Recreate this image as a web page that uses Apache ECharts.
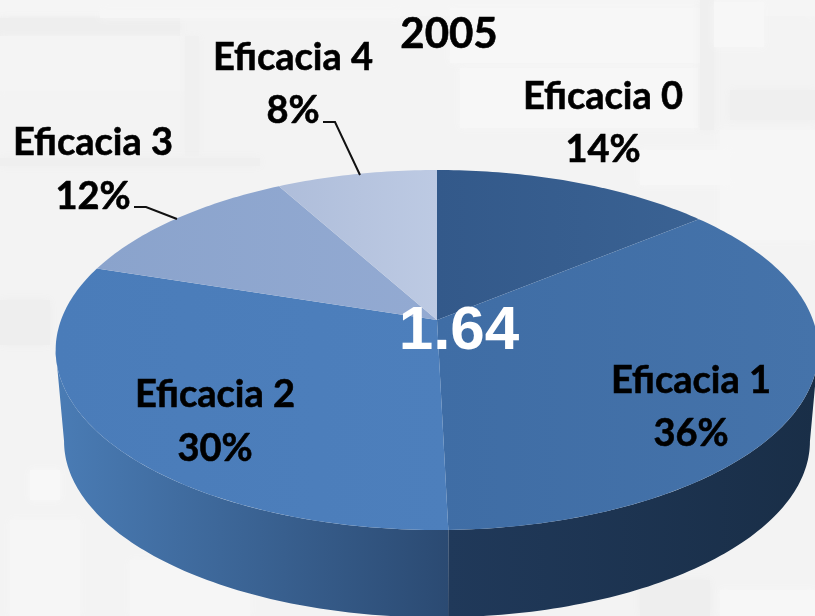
<!DOCTYPE html>
<html>
<head>
<meta charset="utf-8">
<style>
    html, body { margin: 0; padding: 0; background: #f3f3f3; }
    #main { width: 815px; height: 616px; }
</style>
<script src="https://cdn.jsdelivr.net/npm/echarts@6/dist/echarts.min.js"></script>
</head>
<body>
<div id="main"></div>
<script>
// valores (los rotulos muestran el redondeo)
const categories = ['Eficacia 0', 'Eficacia 1', 'Eficacia 2', 'Eficacia 3', 'Eficacia 4'];
const shares = [14, 35.6, 30.4, 12, 8];
const chartTitle = '2005';
const centerValue = '1.64';

// estilo de cada sector: cara superior y pared
const topColors = [
    ['#33598a', '#3a6293'],
    ['#3f6da5', '#4573aa'],
    ['#4a7cb9', '#4d7fbc'],
    ['#8aa3cc', '#93aad2'],
    ['#aebdda', '#bdcae3']
];
const wallColors = [
    ['#1b3048', '#1b3048'],
    ['#20395a', '#192e47'],
    ['#4a7cb5', '#2b4a72'],
    ['#4a7cb5', '#4a7cb5'],
    ['#4a7cb5', '#4a7cb5']
];

// posicion de los rotulos [x, y nombre, y porcentaje]
const labelPlaces = [[603, 97, 150], [691, 381, 434], [215, 395, 449], [93, 143, 197], [293, 58, 111]];
const leaderLines = {
    3: [[134, 207], [146, 207], [177, 219]],
    4: [[323, 122], [335, 122], [360, 175]]
};

// geometria de la tarta en perspectiva
const cx = 437, cy = 320, sx = 376, sy = 175, tilt = 1 / 6;
const depth = 88, bottomScale = 0.978;
// angulo donde la pared deja de verse (borde de la silueta)
const edgeAngle = Math.acos(-tilt) * 180 / Math.PI;

function project(deg, isBottom) {
    const a = deg * Math.PI / 180;
    const u = Math.sin(a), v = -Math.cos(a);
    const w = 1 - tilt * v;
    const k = isBottom ? bottomScale : 1;
    return [cx + sx * k * u / w, cy + sy * k * v / w + (isBottom ? depth + 4 : 0)];
}

function arc(from, to, isBottom) {
    const pts = [];
    const n = Math.max(2, Math.ceil(Math.abs(to - from)));
    for (let i = 0; i <= n; i++) {
        pts.push(project(from + (to - from) * i / n, isBottom));
    }
    return pts;
}

function grad(x1, x2, c) {
    return new echarts.graphic.LinearGradient(x1, 0, x2, 0, [
        { offset: 0, color: c[0] }, { offset: 1, color: c[1] }
    ], true);
}

const total = shares.reduce((a, b) => a + b, 0);
const starts = [];
shares.reduce((acc, s, i) => { starts[i] = acc / total * 360; return acc + s; }, 0);

function labelText(x, y, text) {
    return {
        type: 'text',
        style: {
            x: x, y: y, text: text,
            fill: '#000', stroke: '#000', lineWidth: 0.6,
            font: 'bold 38px Lato', textAlign: 'center', textVerticalAlign: 'middle'
        },
        z2: 5
    };
}

function renderSlice(params, api) {
    const i = api.value(0);
    const from = starts[i];
    const to = from + shares[i] / total * 360;
    const children = [];

    // pared visible, solo la parte frontal
    const wallFrom = Math.max(from, edgeAngle), wallTo = Math.min(to, 360 - edgeAngle);
    if (wallTo > wallFrom) {
        const upper = arc(wallFrom, wallTo, false);
        const lower = arc(wallFrom, wallTo, true).reverse();
        const xs = upper.concat(lower).map(p => p[0]);
        children.push({
            type: 'polygon',
            shape: { points: upper.concat(lower) },
            style: { fill: grad(Math.min.apply(null, xs), Math.max.apply(null, xs), wallColors[i]), stroke: null },
            z2: 1
        });
    }

    // cara superior
    const pts = [[cx, cy]].concat(arc(from, to, false));
    const xs2 = pts.map(p => p[0]);
    children.push({
        type: 'polygon',
        shape: { points: pts },
        style: {
            fill: grad(Math.min.apply(null, xs2), Math.max.apply(null, xs2), topColors[i]),
            stroke: null
        },
        z2: 2
    });

    // linea guia
    if (leaderLines[i]) {
        children.push({
            type: 'polyline',
            shape: { points: leaderLines[i] },
            style: { stroke: '#111', lineWidth: 2, fill: null },
            z2: 3
        });
    }

    // rotulos
    const place = labelPlaces[i];
    children.push(labelText(place[0], place[1], categories[i]));
    children.push(labelText(place[0], place[2], Math.round(shares[i]) + '%'));
    return { type: 'group', children: children };
}

// manchas claras y oscuras del fondo
const backdropBlocks = [
    [0, 0, 815, 16, '#f5f5f5'], [0, 18, 180, 18, '#eeeeee'], [0, 36, 185, 55, '#f4f4f4'],
    [100, 10, 300, 8, '#f6f6f6'], [450, 8, 250, 55, '#f7f7f7'],
    [460, 68, 238, 60, '#f7f7f7'], [700, 0, 14, 130, '#efefef'], [714, 2, 50, 45, '#f7f7f7'],
    [185, 36, 14, 120, '#f0f0f0'], [0, 158, 260, 8, '#efefef'],
    [720, 130, 95, 110, '#f6f6f6'], [640, 150, 90, 35, '#f7f7f7'], [730, 90, 85, 30, '#efefef'],
    [30, 470, 30, 30, '#f8f8f8'], [10, 520, 70, 96, '#f6f6f6'], [130, 560, 120, 56, '#f6f6f6'],
    [0, 300, 50, 45, '#eeeeee'], [720, 590, 95, 26, '#f7f7f7'], [640, 580, 70, 36, '#eeeeee']
];

const myChart = echarts.init(document.getElementById('main'), null, { renderer: 'canvas' });

const option = {
    animation: false,
    backgroundColor: '#f3f3f3',
    title: {
        text: chartTitle,
        left: 444, top: 8,
        textAlign: 'center',
        textStyle: { fontFamily: 'Lato', fontWeight: 'bold', fontSize: 42, color: '#000', textBorderColor: '#000', textBorderWidth: 0.6 }
    },
    graphic: backdropBlocks.map(b => ({
        type: 'rect', silent: true, z: -1,
        shape: { x: b[0], y: b[1], width: b[2], height: b[3] },
        style: { fill: b[4], shadowBlur: 8, shadowColor: b[4] }
    })).concat([{
        type: 'text', z: 10,
        style: {
            x: 459, y: 332, text: centerValue, fill: '#fff',
            font: 'bold 62px "Liberation Sans"', textAlign: 'center', textVerticalAlign: 'middle'
        }
    }]),
    series: [{
        type: 'custom',
        coordinateSystem: 'none',
        renderItem: renderSlice,
        data: categories.map((c, i) => [i]),
        z: 2
    }]
};

myChart.setOption(option);
</script>
</body>
</html>
